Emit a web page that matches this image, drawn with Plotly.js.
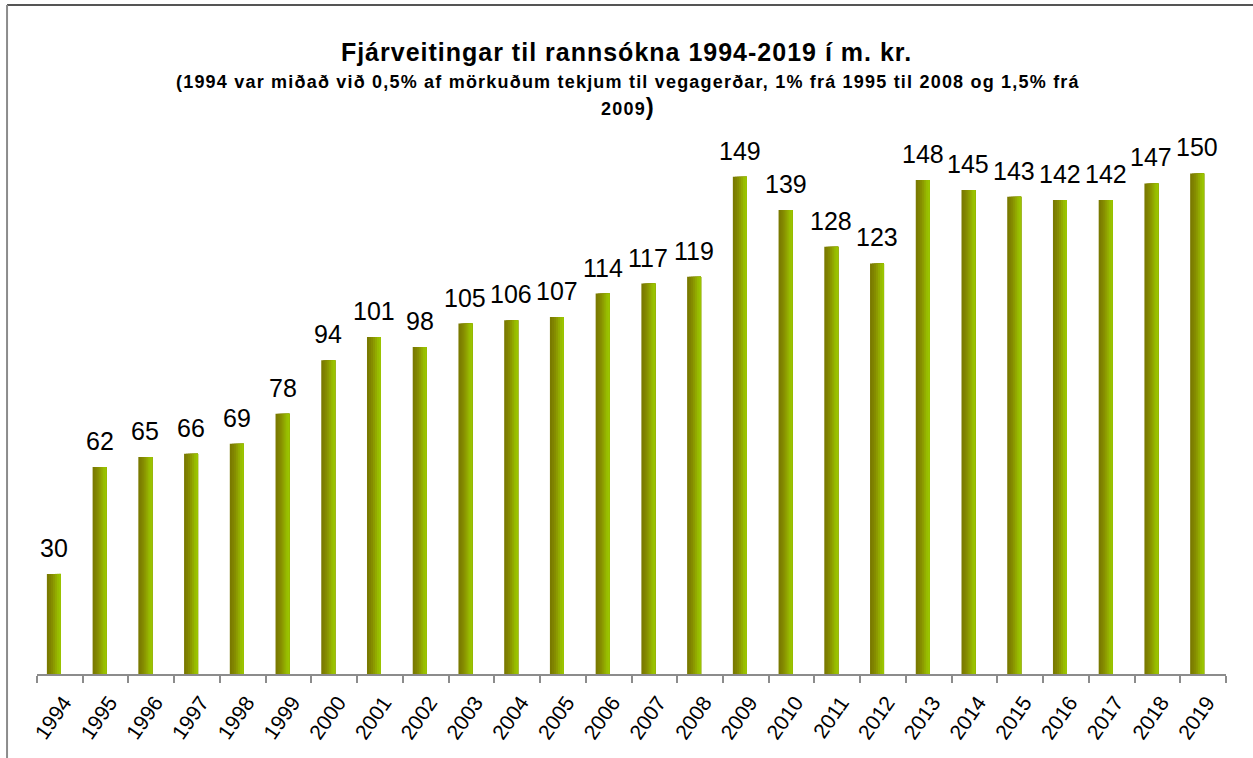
<!DOCTYPE html>
<html>
<head>
<meta charset="utf-8">
<script src="https://cdn.plot.ly/plotly-3.0.1.min.js"></script>
<style>
html,body{margin:0;padding:0;background:#fff;}
#chart{width:1253px;height:758px;}
</style>
</head>
<body>
<div id="chart"></div>
<script>
const years = ["1994","1995","1996","1997","1998","1999","2000","2001","2002","2003","2004","2005","2006","2007","2008","2009","2010","2011","2012","2013","2014","2015","2016","2017","2018","2019"];
const amounts = [30,62,65,66,69,78,94,101,98,105,106,107,114,117,119,149,139,128,123,148,145,143,142,142,147,150];

const titleText = "Fjárveitingar til rannsókna 1994-2019 í m. kr.";
const subtitleLine1 = "(1994 var miðað við 0,5% af mörkuðum tekjum til vegagerðar, 1% frá 1995 til 2008 og 1,5% frá";
const subtitleLine2 = "2009";

// gradient simulation: stacked layers of the same bars, each starting further right
const sliceColors = ["#7a7a00","#7f8200","#858c00","#8c9a00","#92aa00","#97bb00","#9ac400"];
const barWidth = 0.306;
const barOffset = -0.284;
const sw = barWidth / sliceColors.length;

const traces = sliceColors.map((c, k) => ({
  type: "bar",
  x: years,
  y: amounts,
  width: barWidth - k * sw,
  offset: barOffset + k * sw,
  marker: {color: c, line: {width: 0}},
  hoverinfo: "x+y",
  showlegend: false
}));

const FONT = "Arial, 'Liberation Sans', sans-serif";

const annotations = years.map((yr, i) => ({
  x: i, y: amounts[i], xref: "x", yref: "y",
  text: String(amounts[i]), showarrow: false,
  yanchor: "bottom", xanchor: "center",
  xshift: -6, yshift: 10,
  font: {family: FONT, size: 25, color: "#000"}
}));

annotations.push({
  xref: "paper", yref: "paper", x: 0.497, y: 1.108,
  text: "<b><span style='letter-spacing:1.2px'>" + subtitleLine1 + "</span></b>", showarrow: false,
  xanchor: "center", yanchor: "middle",
  font: {family: FONT, size: 18, color: "#000"}
});
annotations.push({
  xref: "paper", yref: "paper", x: 0.497, y: 1.063,
  text: "<b><span style='letter-spacing:1.2px'>" + subtitleLine2 + "</span><span style='font-size:24px'>)</span></b>", showarrow: false,
  xanchor: "center", yanchor: "middle",
  font: {family: FONT, size: 18, color: "#000"}
});

const layout = {
  width: 1253, height: 758,
  margin: {l: 37, r: 27, t: 140, b: 84},
  paper_bgcolor: "#fff", plot_bgcolor: "#fff",
  barmode: "overlay",
  title: {
    text: "<b><span style='letter-spacing:1px'>" + titleText + "</span></b>",
    x: 0.5, xanchor: "center", xref: "container",
    y: 1 - 52/758, yanchor: "middle", yref: "container",
    font: {family: FONT, size: 25, color: "#000"}
  },
  xaxis: {
    type: "category",
    categoryorder: "array", categoryarray: years,
    range: [-0.5, years.length - 0.5], autorange: false,
    showline: true, linecolor: "#8c8c8c", linewidth: 2,
    ticks: "outside", tickson: "boundaries", ticklen: 7, tickcolor: "#8c8c8c", tickwidth: 2,
    tickangle: -55,
    ticklabelstandoff: 6, ticklabelshift: 4,
    tickfont: {family: FONT, size: 21, color: "#000"},
    showgrid: false, zeroline: false, fixedrange: true
  },
  yaxis: {
    visible: false, range: [0, 160], autorange: false, showgrid: false, zeroline: false, fixedrange: true
  },
  annotations: annotations,
  shapes: [
    {type: "line", xref: "paper", yref: "paper", x0: -0.0252, x1: 1.03, y0: (674-5)/534, y1: (674-5)/534,
     line: {color: "#555555", width: 2}},
    {type: "line", xref: "paper", yref: "paper", x0: -0.0252, x1: -0.0252, y0: (674-5)/534, y1: -0.2,
     line: {color: "#8c8c8c", width: 2}}
  ],
  showlegend: false
};

Plotly.newPlot("chart", traces, layout, {displayModeBar: false, staticPlot: true});
</script>
</body>
</html>
